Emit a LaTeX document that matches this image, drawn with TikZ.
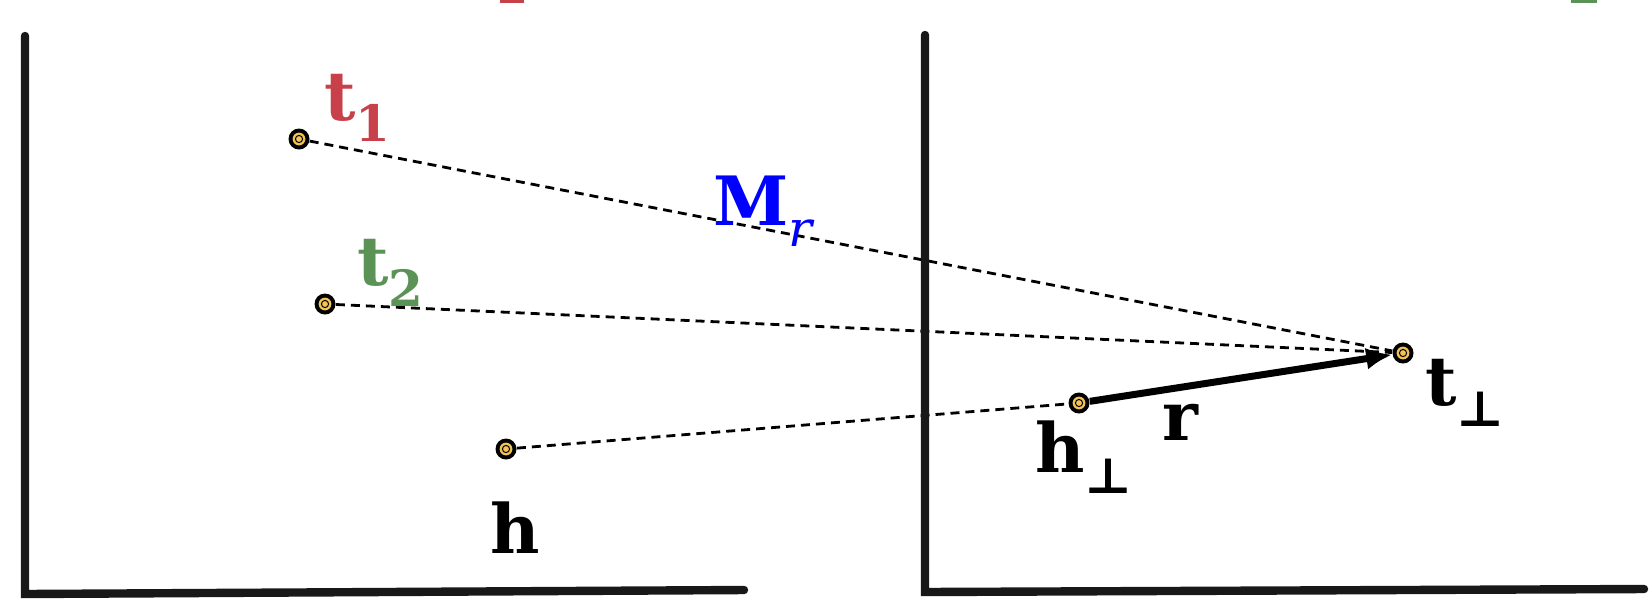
\documentclass[tikz,border=0pt]{standalone}
\usepackage{fontspec}
\setmainfont{DejaVu Serif}
\usetikzlibrary{arrows.meta}
\definecolor{tred}{RGB}{200,64,74}
\definecolor{tgreen}{RGB}{91,146,86}
\definecolor{mblue}{RGB}{0,0,255}
\definecolor{ptyellow}{RGB}{242,196,88}
\definecolor{axisgray}{RGB}{24,24,24}
% bold letter with a subscript
\newcommand{\symsub}[2]{\textbf{#1}\raisebox{-0.32em}{\fontsize{25}{27}\selectfont #2}}
\begin{document}
\begin{tikzpicture}[x=0.5pt, y=-0.5pt]
    % Styles
    \tikzstyle{point} = [circle, fill=black, minimum size=10.5pt, inner sep=0pt,
        path picture={\fill[ptyellow] (path picture bounding box.center) circle (3.2pt);
            \draw[line width=0.5pt] (path picture bounding box.center) circle (1.8pt);}]
    \tikzstyle{axis} = [line width=4.2pt, line cap=round, draw=axisgray]
    \tikzstyle{proj} = [line width=1.4pt, dash pattern=on 4.5pt off 3pt]
    \tikzstyle{arrow} = [line width=3.5pt, -{Latex[length=13pt,width=11pt]}]
    \tikzstyle{lbl} = [inner sep=0pt, anchor=base west, font=\fontsize{34}{38}\selectfont]

    \useasboundingbox (0,0) rectangle (1652,612);

    % === Points: entity space ===
    \node [point] (t1) at (299,139) {};
    \node [point] (t2) at (325,304) {};
    \node [point] (h) at (506,449) {};

    % === Points: relation space ===
    \node [point] (hp) at (1079,403) {};
    \node [point] (tp) at (1403,353) {};

    % === Projections ===
    \draw [proj] (t1) -- (tp);
    \draw [proj] (t2) -- (tp);
    \draw [proj] (h) -- (hp);

    % === Axes ===
    \draw [axis] (25,36) -- (25,594) -- (744,590);
    \draw [axis] (925,35) -- (925,592) -- (1644,589);

    % cut-off marks at the top
    \fill [tred] (500,0) rectangle (524,3);
    \fill [tgreen] (1571,0) rectangle (1597,3);

    % === Relation vector ===
    \draw [arrow] (hp) -- (tp);

    % === Labels ===
    \node [lbl, text=tred] (t1lbl) at (324,120) {\symsub{t}{\textbf{1}}};
    \node [lbl, text=tgreen] (t2lbl) at (357,285) {\symsub{t}{\textbf{2}}};
    \node [lbl, text=mblue] (mrlbl) at (713,225) {\symsub{M}{\textit{r}}};
    \node [lbl] (hlbl) at (490,553) {\textbf{h}};
    \node [lbl] (hplbl) at (1035,472) {\symsub{h}{\textbf{⊥}}};
    \node [lbl] (rlbl) at (1162,440) {\textbf{r}};
    \node [lbl] (tplbl) at (1425,405) {\symsub{t}{\textbf{⊥}}};

\end{tikzpicture}
\end{document}
